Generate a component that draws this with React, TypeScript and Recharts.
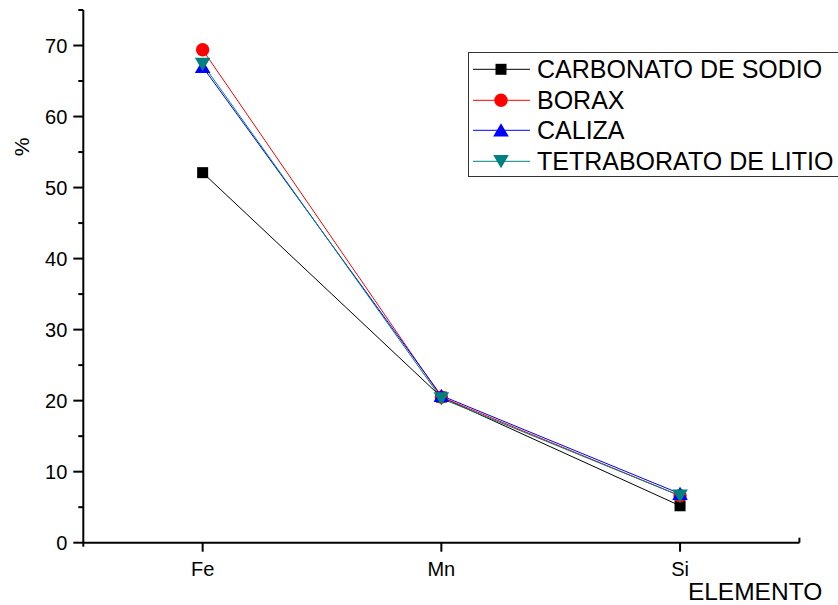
import { CartesianGrid, Legend, Line, LineChart, XAxis, YAxis } from "recharts";

const ELEMENTS = ["Fe", "Mn", "Si"];
const POSITIONS = [1, 2, 3];

const CARBONATO = [52.1, 20.5, 5.2];
const BORAX = [69.4, 20.5, 6.6];
const CALIZA = [67.0, 20.7, 6.9];
const TETRABORATO = [67.4, 20.3, 6.6];

const X_DOMAIN: [number, number] = [0.5, 3.5];
const X_TICKS = [0.5, 1, 2, 3, 3.5];
const Y_DOMAIN: [number, number] = [0, 75];
const Y_TICKS = [0, 5, 10, 15, 20, 25, 30, 35, 40, 45, 50, 55, 60, 65, 70, 75];

type Shape = "square" | "circle" | "up" | "down";

const SERIES: { key: string; name: string; color: string; shape: Shape; values: number[] }[] = [
  { key: "carbonato", name: "CARBONATO DE SODIO", color: "#000000", shape: "square", values: CARBONATO },
  { key: "borax", name: "BORAX", color: "#FF0000", shape: "circle", values: BORAX },
  { key: "caliza", name: "CALIZA", color: "#0000FF", shape: "up", values: CALIZA },
  { key: "tetraborato", name: "TETRABORATO DE LITIO", color: "#008080", shape: "down", values: TETRABORATO },
];

const data = POSITIONS.map((x, i) => {
  const row: Record<string, number | string> = { x, element: ELEMENTS[i] };
  SERIES.forEach((s) => {
    row[s.key] = s.values[i];
  });
  return row;
});

const FONT = '"Liberation Sans", Arial, sans-serif';
const TICK_SIZE = 10;
const TICK_MARGIN = 6;
const X_TICK_SIZE = 9;
const X_TICK_MARGIN = 10;

function Marker({ shape, cx, cy, color }: { shape: Shape; cx: number; cy: number; color: string }) {
  if (cx == null || cy == null) return null;
  switch (shape) {
    case "square":
      return <rect x={cx - 5.5} y={cy - 5.5} width={11} height={11} fill={color} />;
    case "circle":
      return <circle cx={cx} cy={cy} r={6.7} fill={color} />;
    case "up":
      return (
        <polygon points={`${cx},${cy - 7} ${cx + 7.8},${cy + 6.3} ${cx - 7.8},${cy + 6.3}`} fill={color} />
      );
    case "down":
      return (
        <polygon points={`${cx - 7.8},${cy - 6.3} ${cx + 7.8},${cy - 6.3} ${cx},${cy + 7}`} fill={color} />
      );
  }
  return null;
}

function YTick(props: any) {
  const { x, y, payload } = props;
  const axisX = x + TICK_SIZE + TICK_MARGIN;
  const major = payload.value % 10 === 0;
  return (
    <g>
      <line x1={axisX} y1={y} x2={axisX - (major ? TICK_SIZE : 5)} y2={y} stroke="#000" strokeWidth={2} />
      {major && (
        <text x={x} y={y} dy="0.35em" textAnchor="end" fontSize={20} fontFamily={FONT} fill="#000">
          {payload.value}
        </text>
      )}
    </g>
  );
}

function XTick(props: any) {
  const { x, y, payload } = props;
  const axisY = y - X_TICK_SIZE - X_TICK_MARGIN;
  const v = payload.value;
  if (v === X_DOMAIN[0]) {
    return <line x1={x} y1={axisY} x2={x} y2={axisY + 4} stroke="#000" strokeWidth={2} />;
  }
  if (v === X_DOMAIN[1]) {
    return <line x1={x} y1={axisY} x2={x} y2={axisY - 5} stroke="#000" strokeWidth={2} />;
  }
  const idx = POSITIONS.indexOf(v);
  return (
    <g>
      <line x1={x} y1={axisY} x2={x} y2={axisY + X_TICK_SIZE} stroke="#000" strokeWidth={2} />
      <text x={x} y={y} dy="0.71em" textAnchor="middle" fontSize={20} fontFamily={FONT} fill="#000">
        {ELEMENTS[idx] ?? ""}
      </text>
    </g>
  );
}

function YTitle(props: any) {
  const vb = props.viewBox ?? { x: 0, y: 10 };
  const cx = vb.x + 22;
  const cy = vb.y + 137;
  return (
    <text
      x={cx}
      y={cy}
      dy="0.35em"
      textAnchor="middle"
      transform={`rotate(-90 ${cx} ${cy})`}
      fontSize={21}
      fontFamily={FONT}
      fill="#000"
    >
      %
    </text>
  );
}

function XTitle(props: any) {
  const vb = props.viewBox ?? { x: 83, y: 543, width: 716 };
  return (
    <text x={vb.x + vb.width - 111.5} y={vb.y + 57.3} fontSize={24.5} fontFamily={FONT} fill="#000">
      ELEMENTO
    </text>
  );
}

function LegendBox() {
  return (
    <div
      style={{
        border: "1px solid #333",
        background: "#fff",
        width: 400,
        padding: "1px 0 0 4px",
        boxSizing: "border-box",
        fontFamily: FONT,
      }}
    >
      {SERIES.map((s) => (
        <div key={s.key} style={{ display: "flex", alignItems: "center", height: 30.6 }}>
          <svg width={57} height={30.6} style={{ display: "block" }}>
            <line x1={0} y1={15.3} x2={57} y2={15.3} stroke={s.color} strokeWidth={1} />
            <Marker shape={s.shape} cx={28} cy={15.3} color={s.color} />
          </svg>
          <span style={{ marginLeft: 7, fontSize: 25, lineHeight: "30.6px", color: "#000", whiteSpace: "nowrap" }}>
            {s.name}
          </span>
        </div>
      ))}
    </div>
  );
}

export default function App() {
  return (
    <div
      style={{
        position: "absolute",
        left: 0,
        top: 0,
        width: 838,
        height: 605,
        overflow: "hidden",
        background: "#fff",
      }}
    >
      <LineChart width={838} height={605} data={data} margin={{ top: 10, right: 38.6, bottom: 0, left: 0 }}>
        <CartesianGrid stroke="none" fill="none" />
        <XAxis
          type="number"
          dataKey="x"
          domain={X_DOMAIN}
          ticks={X_TICKS}
          interval={0}
          height={62.3}
          tickSize={X_TICK_SIZE}
          tickMargin={X_TICK_MARGIN}
          tickLine={false}
          axisLine={{ stroke: "#000", strokeWidth: 2 }}
          tick={<XTick />}
          label={<XTitle />}
        />
        <YAxis
          type="number"
          domain={Y_DOMAIN}
          ticks={Y_TICKS}
          interval={0}
          width={83.3}
          tickSize={TICK_SIZE}
          tickMargin={TICK_MARGIN}
          tickLine={false}
          axisLine={{ stroke: "#000", strokeWidth: 2 }}
          tick={<YTick />}
          label={<YTitle />}
        />
        <Legend
          layout="vertical"
          align="center"
          verticalAlign="middle"
          content={() => <LegendBox />}
          wrapperStyle={{ left: 468, top: 52, width: 400 }}
        />
        {SERIES.map((s) => (
          <Line
            key={s.key}
            type="linear"
            dataKey={s.key}
            name={s.name}
            stroke={s.color}
            strokeWidth={1}
            dot={(p: any) => <Marker key={`${s.key}-${p.index}`} shape={s.shape} cx={p.cx} cy={p.cy} color={s.color} />}
            activeDot={false}
            isAnimationActive={false}
          />
        ))}
      </LineChart>
    </div>
  );
}
